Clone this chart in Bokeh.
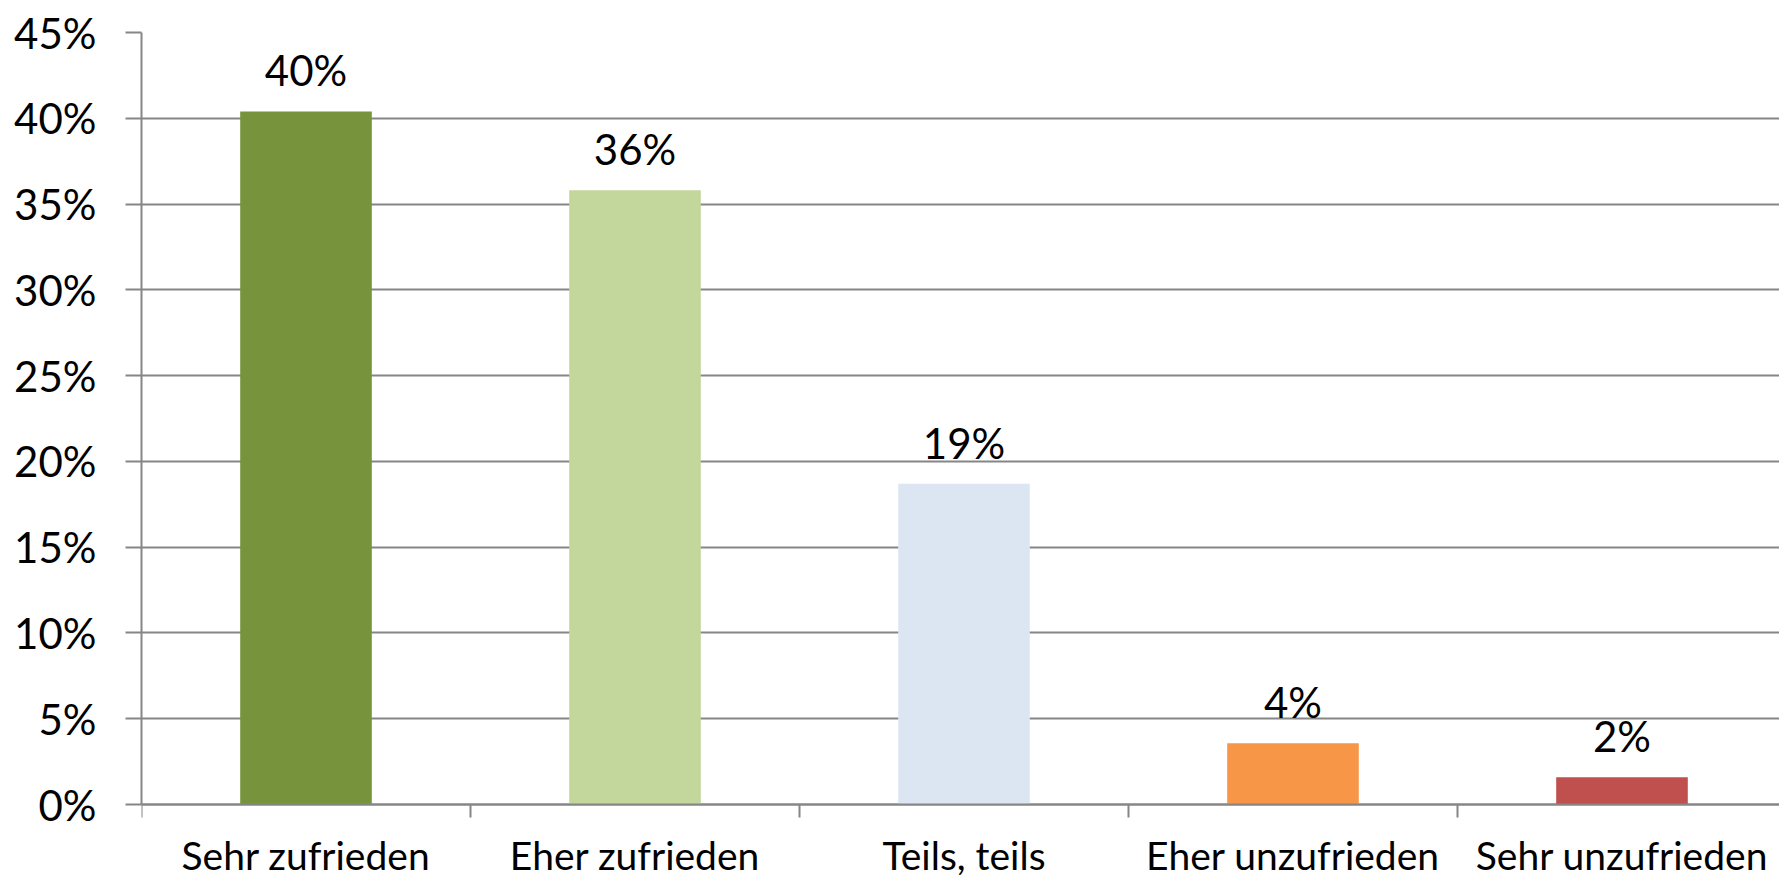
from bokeh.plotting import figure
from bokeh.models import Range1d, FixedTicker, PrintfTickFormatter, ColumnDataSource
from bokeh.core.properties import value
from bokeh.embed import file_html
from bokeh.resources import INLINE

# ---- data ----
categories = ["Sehr zufrieden", "Eher zufrieden", "Teils, teils",
              "Eher unzufrieden", "Sehr unzufrieden"]
shares = [40.4, 35.8, 18.7, 3.57, 1.59]
value_labels = ["40%", "36%", "19%", "4%", "2%"]
bar_colors = ["#77933C", "#C3D69B", "#DCE6F2", "#F79646", "#C0504D"]
y_ticks = [0, 5, 10, 15, 20, 25, 30, 35, 40, 45]

FONT = "Lato"
GRID = "#868686"

W, H = 1779, 877
TOP, LEFT = 32, 141
ZERO_PX = 804            # page y of the 0% line
px_per_unit = (ZERO_PX - TOP) / 45.0
y_start = -(H - ZERO_PX) / px_per_unit
cat_px = 329.0
x_end = (W - LEFT) / cat_px

centers = [i + 0.5 for i in range(len(categories))]
bounds_ticks = [i for i in range(len(categories) + 1)]
src = ColumnDataSource(dict(x=centers, top=shares, color=bar_colors, lab=value_labels))

p = figure(width=W, height=H, output_backend="svg", toolbar_location=None,
           x_range=Range1d(0, x_end), y_range=Range1d(y_start, 45),
           min_border_top=TOP, min_border_bottom=0, min_border_left=LEFT,
           min_border_right=0)
p.outline_line_color = None

p.vbar(x="x", top="top", bottom=0, width=0.4, color="color", line_color=None, source=src)

p.text(x="x", y="top", text="lab", source=src, text_align="center",
       text_baseline="alphabetic", y_offset=-41, text_font=value(FONT),
       text_font_size="42px", text_color="black")

# y axis
p.yaxis.ticker = FixedTicker(ticks=y_ticks)
p.yaxis.bounds = (0, 45)
p.yaxis.formatter = PrintfTickFormatter(format="%d%%")
p.yaxis.major_label_text_font = FONT
p.yaxis.major_label_text_font_size = "42px"
p.yaxis.major_label_text_color = "black"
p.yaxis.major_label_standoff = 29
p.yaxis.major_tick_out = 16
p.yaxis.major_tick_in = 0
p.yaxis.minor_tick_line_color = None
p.yaxis.axis_line_color = GRID
p.yaxis.axis_line_width = 2
p.yaxis.major_tick_line_color = GRID
p.yaxis.major_tick_line_width = 2

# x axis fixed at 0, labels at centres, boundary ticks as minor ticks
p.xaxis.fixed_location = 0
p.xaxis.ticker = FixedTicker(ticks=centers, minor_ticks=bounds_ticks)
p.xaxis.major_label_overrides = {c: cat for c, cat in zip(centers, categories)}
p.xaxis.major_label_text_font = FONT
p.xaxis.major_label_text_font_size = "39px"
p.xaxis.major_label_text_color = "black"
p.xaxis.major_label_standoff = 14
p.xaxis.major_tick_out = 0
p.xaxis.major_tick_in = 0
p.xaxis.major_tick_line_color = None
p.xaxis.minor_tick_out = 13
p.xaxis.minor_tick_in = 0
p.xaxis.minor_tick_line_color = GRID
p.xaxis.minor_tick_line_width = 2
p.xaxis.axis_line_color = GRID
p.xaxis.axis_line_width = 2

p.xgrid.grid_line_color = None
p.ygrid.ticker = FixedTicker(ticks=y_ticks)
p.ygrid.grid_line_color = GRID
p.ygrid.grid_line_width = 2

open("out.html", "w").write(file_html(p, INLINE))
